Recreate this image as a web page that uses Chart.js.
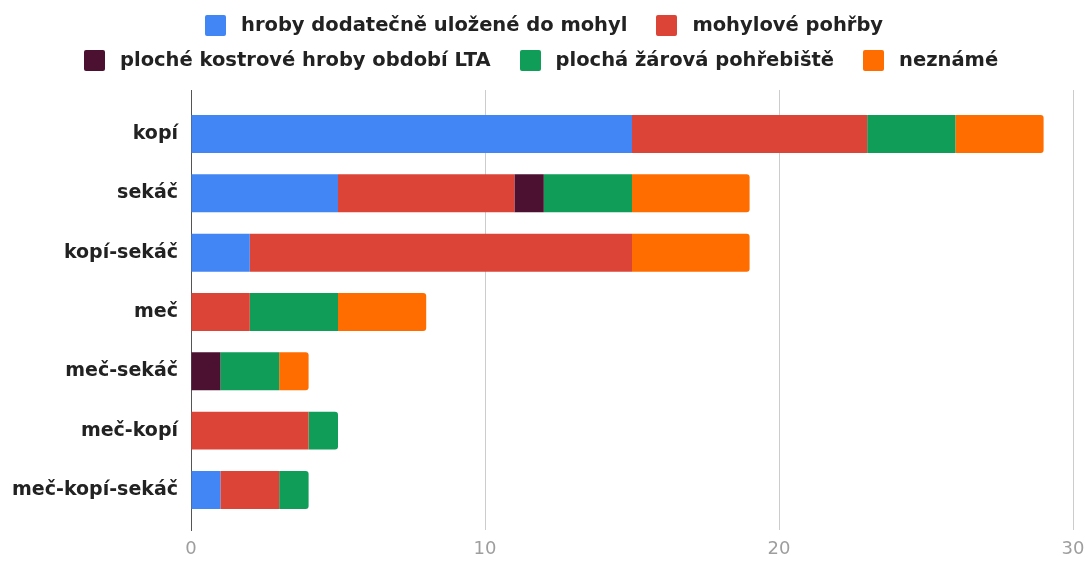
<!DOCTYPE html>
<html>
<head>
<meta charset="utf-8">
<script src="https://cdn.jsdelivr.net/npm/chart.js@4.4.0/dist/chart.umd.min.js"></script>
<style>
  html, body { margin: 0; padding: 0; background: #fff; }
  #wrap { position: relative; width: 1090px; height: 562px; }
  #legend { position: absolute; left: 0; top: 0; width: 1090px; font-family: "DejaVu Sans", sans-serif; font-weight: bold; font-size: 19.5px; color: #222; }
  .row { position: absolute; display: flex; align-items: center; white-space: nowrap; line-height: 22px; }
  .item { display: flex; align-items: center; margin-right: 29px; }
  .box { width: 21px; height: 21px; border-radius: 2px; margin-right: 15px; }
</style>
</head>
<body>
<div id="wrap">
  <canvas id="c" width="1090" height="562"></canvas>
  <div id="legend"></div>
</div>
<script>
const categories = ["kopí", "sekáč", "kopí-sekáč", "meč", "meč-sekáč", "meč-kopí", "meč-kopí-sekáč"];
const seriesNames = ["hroby dodatečně uložené do mohyl", "mohylové pohřby", "ploché kostrové hroby období LTA", "plochá žárová pohřebiště", "neznámé"];
const seriesColors = ["#4285f4", "#db4437", "#4c1130", "#0f9d58", "#ff6d01"];
const hrobyDodatecne = [15, 5, 2, 0, 0, 0, 1];
const mohylovePohrby = [8, 6, 13, 2, 0, 4, 2];
const plocheKostrove = [0, 1, 0, 0, 1, 0, 0];
const plochaZarova   = [3, 3, 0, 3, 2, 1, 1];
const nezname        = [3, 4, 4, 3, 1, 0, 0];
const xTicks = [0, 10, 20, 30];

const seriesValues = [hrobyDodatecne, mohylovePohrby, plocheKostrove, plochaZarova, nezname];

// HTML legend (two rows as in reference)
const legendRows = [[0, 1], [2, 3, 4]];
const rowPos = [{left: 205, top: 14}, {left: 84, top: 49}];
const legendEl = document.getElementById('legend');
legendRows.forEach((row, ri) => {
  const r = document.createElement('div');
  r.className = 'row';
  r.style.left = rowPos[ri].left + 'px';
  r.style.top = rowPos[ri].top + 'px';
  row.forEach(i => {
    const it = document.createElement('div');
    it.className = 'item';
    const b = document.createElement('div');
    b.className = 'box';
    b.style.background = seriesColors[i];
    const t = document.createElement('span');
    t.textContent = seriesNames[i];
    it.appendChild(b); it.appendChild(t);
    r.appendChild(it);
  });
  legendEl.appendChild(r);
});

const datasets = seriesValues.map((vals, i) => ({
  label: seriesNames[i],
  data: vals.map((v, j) => ({ x: v, y: j })),
  backgroundColor: seriesColors[i],
  borderWidth: 0,
  borderRadius: 3,
  borderSkipped: 'start',
  barPercentage: 0.64,
  categoryPercentage: 1.0
}));

new Chart(document.getElementById('c'), {
  type: 'bar',
  data: { datasets },
  options: {
    indexAxis: 'y',
    responsive: false,
    animation: false,
    events: [],
    layout: { padding: { top: 90, right: 17, bottom: 0, left: 0 } },
    plugins: { legend: { display: false }, tooltip: { enabled: false } },
    scales: {
      x: {
        type: 'linear',
        stacked: true,
        min: xTicks[0],
        max: xTicks[xTicks.length - 1],
        afterBuildTicks: s => { s.ticks = xTicks.map(v => ({ value: v })); },
        grid: {
          drawTicks: false,
          color: ctx => (ctx.tick && ctx.tick.value === 0) ? '#555' : '#cccccc',
          lineWidth: 1
        },
        border: { display: false },
        ticks: { padding: 9, color: '#9e9e9e', font: { family: 'DejaVu Sans', size: 18 } },
        afterFit: s => { s.height = 32; s.paddingLeft = 0; s.paddingRight = 0; }
      },
      y: {
        type: 'linear',
        stacked: true,
        reverse: true,
        offset: false,
        min: -0.742,
        max: 6.675,
        afterBuildTicks: s => { s.ticks = categories.map((c, i) => ({ value: i })); },
        ticks: {
          callback: v => categories[v] ?? '',
          padding: 13,
          color: '#222',
          font: { family: 'DejaVu Sans', size: 19, weight: 'bold' }
        },
        grid: { display: false, drawTicks: false, offset: false },
        border: { display: true, color: '#555', width: 1 },
        afterFit: s => { s.width = 191; }
      }
    }
  }
});
</script>
</body>
</html>
